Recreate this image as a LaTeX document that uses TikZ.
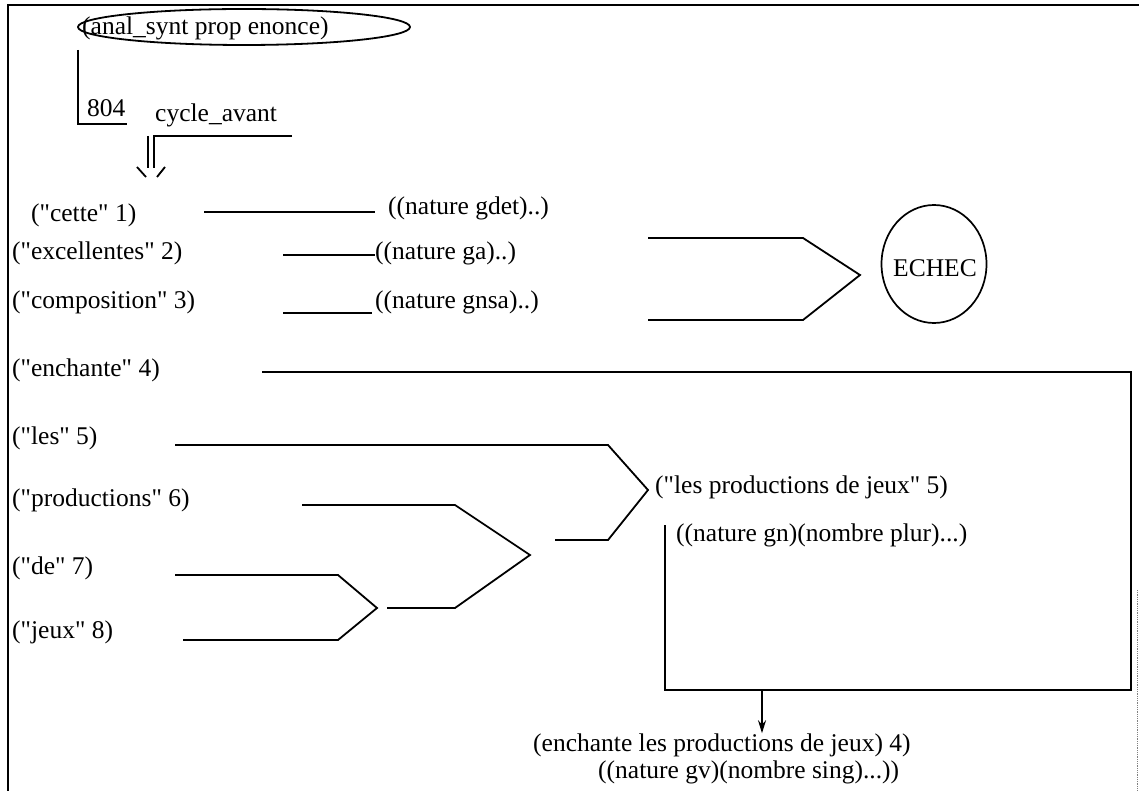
\documentclass[tikz,border=0pt]{standalone}
\usepackage{fontspec}
\setmainfont{Liberation Serif}
\usetikzlibrary{arrows.meta, shapes.geometric}
\newcommand{\dq}{\textquotedbl}

\tikzset{
  lbl/.style={font=\fontsize{25.5}{28}\selectfont, inner sep=0pt, anchor=west},
  wire/.style={line width=1.8pt},
}

\begin{document}
\begin{tikzpicture}[x=1pt, y=-1pt, line join=miter]
        \useasboundingbox (0,0) rectangle (1139,791);
        % Frame
        \draw[line width=1.8pt] (8,791) -- (8,5) -- (1139,5);
        \draw[gray,densely dotted,thick] (1137,590) -- (1137,791);
        % Goal
        \node[draw,ellipse,line width=1.8pt,minimum width=332,minimum height=36] (goal) at (244,27) {};
        \node[lbl] (goaltxt) at (82,28) {(anal\_synt prop enonce)};
        \coordinate (b0) at (78,50);
        \coordinate (b1) at (78,124);
        \coordinate (b2) at (127,124);
        \draw[wire] (b0) -- (b1) -- (b2);
        \node[lbl] (rule) at (87,108) {804};
        \node[lbl] (cyc) at (155,115) {cycle\_avant};
        % Double arrow
        \coordinate (d0) at (292,136);
        \coordinate (d1) at (154,136);
        \coordinate (d2) at (154,168);
        \coordinate (d3) at (148,136);
        \coordinate (d4) at (148,168);
        \draw[wire] (d0) -- (d1) -- (d2);
        \draw[wire] (d3) -- (d4);
        \draw[wire] (137,167) -- (146,177);
        \draw[wire] (165,167) -- (157,177);
        % Words
        \node[lbl] (w1) at (31,215) {(\dq cette\dq\ 1)};
        \node[lbl] (w2) at (12,253) {(\dq excellentes\dq\ 2)};
        \node[lbl] (w3) at (12,302) {(\dq composition\dq\ 3)};
        \node[lbl] (w4) at (12,370) {(\dq enchante\dq\ 4)};
        \node[lbl] (w5) at (12,438) {(\dq les\dq\ 5)};
        \node[lbl] (w6) at (12,500) {(\dq productions\dq\ 6)};
        \node[lbl] (w7) at (12,568) {(\dq de\dq\ 7)};
        \node[lbl] (w8) at (12,632) {(\dq jeux\dq\ 8)};
        % Features
        \node[lbl] (f1) at (388,208) {((nature gdet)..)};
        \node[lbl] (f2) at (375,253) {((nature ga)..)};
        \node[lbl] (f3) at (375,302) {((nature gnsa)..)};
        \coordinate (l1a) at (204,212);
        \coordinate (l1b) at (375,212);
        \coordinate (l2a) at (283,255);
        \coordinate (l3a) at (283,313);
        \coordinate (l3b) at (372,313);
        \draw[wire] (l1a) -- (l1b);
        \draw[wire] (l2a) -- (f2.west |- l2a);
        \draw[wire] (l3a) -- (l3b);
        % Failure
        \node[draw,ellipse,line width=1.7pt,minimum width=105,minimum height=118] (echec) at (934,264) {};
        \node[lbl,anchor=east] (echectxt) at (977,268) {ECHEC};
        \coordinate (e0) at (648,238);
        \coordinate (e1) at (803,238);
        \coordinate (e2) at (860,275);
        \coordinate (e3) at (803,320);
        \coordinate (e4) at (648,320);
        \draw[wire] (e0) -- (e1) -- (e2) -- (e3) -- (e4);
        % Groups
        \draw[wire] (175,445) -- (608,445) -- (648,490) -- (608,540) -- (555,540);
        \draw[wire] (302,505) -- (455,505) -- (530,555) -- (455,608) -- (387,608);
        \draw[wire] (175,575) -- (338,575) -- (377,608) -- (338,640) -- (183,640);
        \node[lbl] (gn) at (655,487) {(\dq les productions de jeux\dq\ 5)};
        \node[lbl] (gnf) at (676,535) {((nature gn)(nombre plur)...)};
        % Verb group box
        \coordinate (v0) at (262,372);
        \coordinate (v1) at (1131,372);
        \coordinate (v2) at (1131,690);
        \coordinate (v3) at (665,690);
        \coordinate (v4) at (665,525);
        \coordinate (v5) at (762,690);
        \draw[wire] (v0) -- (v1) -- (v2) -- (v3) -- (v4);
        \node[lbl] (gv) at (533,745) {(enchante les productions de jeux) 4)};
        \node[lbl] (gvf) at (598,772) {((nature gv)(nombre sing)...))};
        \draw[wire,-{Stealth[length=13pt,width=8pt]}] (v5) -- (v5 |- gv.north);
\end{tikzpicture}
\end{document}
